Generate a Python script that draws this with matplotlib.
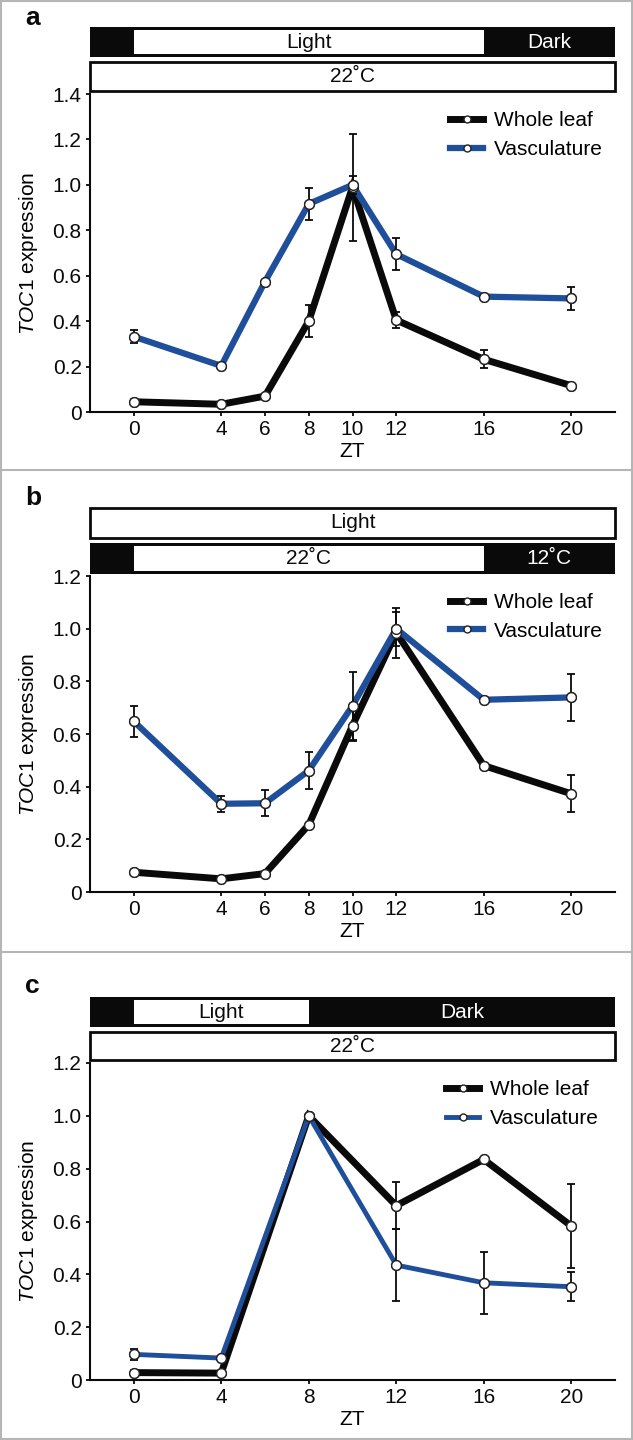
import matplotlib
matplotlib.use("Agg")
import matplotlib.pyplot as plt
from matplotlib.patches import Rectangle
from matplotlib.lines import Line2D
from matplotlib.ticker import FuncFormatter

plt.rcParams['font.family'] = ['Liberation Sans', 'DejaVu Sans']
plt.rcParams['mathtext.fontset'] = 'custom'
plt.rcParams['mathtext.it'] = 'Liberation Sans:italic'
plt.rcParams['mathtext.rm'] = 'Liberation Sans'

# --- data ---
zt_ab = [0, 4, 6, 8, 10, 12, 16, 20]
zt_c = [0, 4, 8, 12, 16, 20]

a_leaf = [0.045, 0.034, 0.07, 0.40, 0.99, 0.405, 0.232, 0.116]
a_leaf_err = [0, 0, 0, 0.07, 0.235, 0.035, 0.04, 0]
a_vasc = [0.332, 0.203, 0.574, 0.916, 1.0, 0.695, 0.508, 0.50]
a_vasc_err = [0.03, 0, 0, 0.07, 0.04, 0.07, 0, 0.05]

b_leaf = [0.075, 0.05, 0.07, 0.255, 0.632, 0.985, 0.48, 0.373]
b_leaf_err = [0, 0, 0, 0, 0.06, 0.095, 0, 0.07]
b_vasc = [0.648, 0.335, 0.337, 0.461, 0.707, 1.0, 0.73, 0.739]
b_vasc_err = [0.06, 0.03, 0.05, 0.07, 0.13, 0.065, 0, 0.09]

c_leaf = [0.028, 0.026, 1.0, 0.66, 0.835, 0.583]
c_leaf_err = [0, 0, 0, 0.09, 0, 0.16]
c_vasc = [0.097, 0.083, 1.0, 0.435, 0.368, 0.353]
c_vasc_err = [0.022, 0, 0, 0.135, 0.118, 0.055]

x_range = (-2, 22)
series_names = ['Whole leaf', 'Vasculature']

# condition bars: (white span, labels as (x, text, on_white))
bar_a_top = ((0, 16), [(8, 'Light', True), (19, 'Dark', False)])
bar_a_temp = (x_range, [(10, '22˚C', True)])
bar_b_top = (x_range, [(10, 'Light', True)])
bar_b_temp = ((0, 16), [(8, '22˚C', True), (19, '12˚C', False)])
bar_c_top = ((0, 8), [(4, 'Light', True), (15, 'Dark', False)])
bar_c_temp = (x_range, [(10, '22˚C', True)])

W, H = 633, 1440
BLACK = '#0a0a0a'
BLUE = '#1f4e9b'
FS = 15

fig = plt.figure(figsize=(W / 100, H / 100), dpi=100)


def px_axes(top, bottom, left=90, right=615):
    return fig.add_axes([left / W, 1 - bottom / H, (right - left) / W, (bottom - top) / H])


def draw_bar(top, bottom, bar):
    span, labels = bar
    ax = px_axes(top, bottom)
    ax.set_xlim(*x_range)
    ax.set_ylim(0, 1)
    ax.axis('off')
    if tuple(span) == tuple(x_range):
        ax.add_patch(Rectangle((x_range[0], 0), x_range[1] - x_range[0], 1,
                               facecolor='white', edgecolor=BLACK, lw=2, clip_on=False))
    else:
        ax.add_patch(Rectangle((x_range[0], 0), x_range[1] - x_range[0], 1,
                               facecolor=BLACK, edgecolor=BLACK, lw=0, clip_on=False))
        ax.add_patch(Rectangle((span[0], 0.1), span[1] - span[0], 0.8,
                               facecolor='white', edgecolor='none', clip_on=False))
    for x, txt, on_white in labels:
        ax.text(x, 0.5, txt, ha='center', va='center', fontsize=FS,
                color=BLACK if on_white else 'white')


def draw_panel(top, bottom, zt, leaf, leaf_err, vasc, vasc_err, ymax, legend_x,
               blue_lw=4.5):
    ax = px_axes(top, bottom)
    lines = []
    for vals, color, lw, name in [(leaf, BLACK, 5, series_names[0]),
                                  (vasc, BLUE, blue_lw, series_names[1])]:
        ln, = ax.plot(zt, vals, color=color, lw=lw, marker='o', ms=7,
                      mfc='white', mec='#222222', mew=1, zorder=2, label=name,
                      solid_joinstyle='miter')
        lines.append(ln)
    for vals, err in [(leaf, leaf_err), (vasc, vasc_err)]:
        ax.errorbar(zt, vals, yerr=err, fmt='none', ecolor=BLACK, elinewidth=1.3,
                    capsize=3, capthick=1.3, zorder=3)
    for vals in [leaf, vasc]:
        ax.plot(zt, vals, ls='none', marker='o', ms=7, mfc='white',
                mec='#222222', mew=1, zorder=4)

    ax.set_xlim(*x_range)
    ax.set_ylim(0, ymax)
    ax.set_xticks(zt)
    ax.set_yticks([i * 0.2 for i in range(int(round(ymax / 0.2)) + 1)])
    ax.yaxis.set_major_formatter(FuncFormatter(lambda v, p: '0' if abs(v) < 1e-9 else f'{v:.1f}'))
    for s in ['top', 'right']:
        ax.spines[s].set_visible(False)
    for s in ['left', 'bottom']:
        ax.spines[s].set_linewidth(1.5)
        ax.spines[s].set_color(BLACK)
    ax.tick_params(length=3, width=1.3, labelsize=FS, pad=3, colors=BLACK)
    ax.set_xlabel('ZT', fontsize=FS)
    ax.set_ylabel(r'$\mathit{TOC1}$ expression', fontsize=FS)
    ax.xaxis.set_label_coords(0.5, -0.095)
    ax.yaxis.set_label_coords(-0.095, 0.5)

    leg = ax.legend(handles=lines, loc='upper left', bbox_to_anchor=(legend_x, 0.945),
                    frameon=False, fontsize=FS, borderpad=0, borderaxespad=0,
                    handlelength=1.6, handletextpad=0.5, labelspacing=0.45)
    for h in leg.legend_handles:
        h.set_markersize(5)
    return ax


# panel a
draw_bar(27, 57, bar_a_top)
draw_bar(62, 91, bar_a_temp)
draw_panel(94, 412, zt_ab, a_leaf, a_leaf_err, a_vasc, a_vasc_err, 1.4, 0.686)

# panel b
draw_bar(508, 538, bar_b_top)
draw_bar(543, 574, bar_b_temp)
draw_panel(576, 892, zt_ab, b_leaf, b_leaf_err, b_vasc, b_vasc_err, 1.2, 0.686)

# panel c
draw_bar(997, 1027, bar_c_top)
draw_bar(1032, 1060, bar_c_temp)
draw_panel(1063, 1380, zt_c, c_leaf, c_leaf_err, c_vasc, c_vasc_err, 1.2, 0.678,
           blue_lw=3.5)

# panel letters
for letter, base in [('a', 25), ('b', 505), ('c', 993)]:
    fig.text(25 / W, 1 - base / H, letter, fontsize=19, fontweight='bold',
             va='baseline', ha='left', color=BLACK)

# grey frame and separators
GREY = '#b5b5b5'
fig.add_artist(Rectangle((0.001, 0.0007), 0.998, 0.9986, transform=fig.transFigure,
                         facecolor='none', edgecolor=GREY, lw=1.5))
for ysep in [470, 952]:
    fig.add_artist(Line2D([0, 1], [1 - ysep / H] * 2, transform=fig.transFigure,
                          color=GREY, lw=1.5))

fig.savefig('out.png', dpi=100)
